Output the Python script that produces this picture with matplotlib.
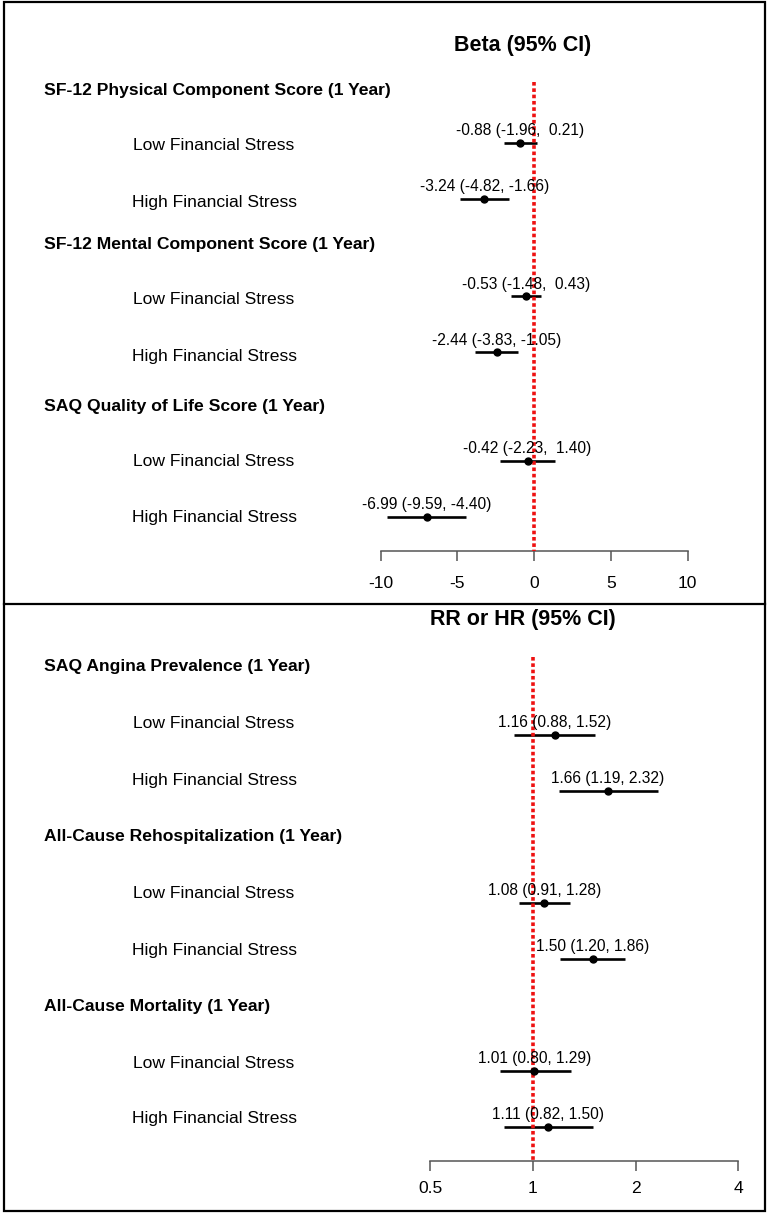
import matplotlib
matplotlib.use("Agg")
import numpy as np
import matplotlib.pyplot as plt
from matplotlib.patches import Rectangle
from matplotlib.lines import Line2D
import matplotlib.transforms as mtransforms

plt.rcParams['font.family'] = ['Liberation Sans', 'DejaVu Sans']

# ---- data ----
beta_headers = ["SF-12 Physical Component Score (1 Year)",
                "SF-12 Mental Component Score (1 Year)",
                "SAQ Quality of Life Score (1 Year)"]
beta_est = [-0.88, -3.24, -0.53, -2.44, -0.42, -6.99]
beta_lo = [-1.96, -4.82, -1.48, -3.83, -2.23, -9.59]
beta_hi = [0.21, -1.66, 0.43, -1.05, 1.40, -4.40]
beta_ticks = [-10, -5, 0, 5, 10]

rr_headers = ["SAQ Angina Prevalence (1 Year)",
              "All-Cause Rehospitalization (1 Year)",
              "All-Cause Mortality (1 Year)"]
rr_est = [1.16, 1.66, 1.08, 1.50, 1.01, 1.11]
rr_lo = [0.88, 1.19, 0.91, 1.20, 0.80, 0.82]
rr_hi = [1.52, 2.32, 1.28, 1.86, 1.29, 1.50]
rr_ticks = [0.5, 1, 2, 4]
rr_ticklabels = ["0.5", "1", "2", "4"]

groups = ["Low Financial Stress", "High Financial Stress"]

W, H = 768, 1214
fig = plt.figure(figsize=(W / 100, H / 100), dpi=100)


def fmt_col(vals):
    s = [f"{v:.2f}" for v in vals]
    w = max(len(x) for x in s)
    return [x.rjust(w) for x in s]


# y positions are in figure pixels (layout only)
def panel(y0, y1, xlim, title, title_y, head_y, label_y, bar_y, axis_y,
          headers, est, lo, hi, ticks, ticklabels, ref, ref_top, pad,
          log=False):
    ax = fig.add_axes([4 / W, 1 - y1 / H, 761 / W, (y1 - y0) / H])
    if log:
        ax.set_xscale('log', base=2)
    ax.set_xlim(*xlim)
    ax.set_ylim(y1, y0)
    ax.patch.set_alpha(0)
    for s in ['left', 'right', 'top']:
        ax.spines[s].set_visible(False)
    sp = ax.spines['bottom']
    sp.set_position(('data', axis_y))
    sp.set_bounds(ticks[0], ticks[-1])
    sp.set_color('#555555')
    sp.set_linewidth(1.1)
    ax.set_yticks([])
    ax.set_xticks(ticks)
    ax.set_xticklabels(ticklabels)
    ax.xaxis.set_minor_locator(matplotlib.ticker.NullLocator())
    ax.tick_params(axis='x', length=7.2, width=1.1, color='#555555',
                   pad=pad, labelsize=12.6)

    tr = mtransforms.blended_transform_factory(ax.transAxes, ax.transData)
    ax.text(0.682, title_y, title, transform=tr, ha='center', va='center',
            fontsize=15.5, fontweight='bold')

    ax.plot([ref, ref], [ref_top, axis_y], color='#ee1111', lw=2.6,
            linestyle=(0, (1.0, 0.75)), zorder=3)

    est_s = fmt_col(est)
    lo_s = fmt_col(lo)
    hi_s = fmt_col(hi)
    for g in range(3):
        ax.text(0.0526, head_y[g], headers[g], transform=tr, ha='left',
                va='center', fontsize=12.6, fontweight='bold')
        for k in range(2):
            i = g * 2 + k
            ax.text(0.276, label_y[i], groups[k], transform=tr, ha='center',
                    va='center', fontsize=12.6)
            yb = bar_y[i]
            ax.plot([lo[i], hi[i]], [yb, yb], color='black', lw=1.9,
                    solid_capstyle='butt', zorder=2)
            ax.plot(est[i], yb, 'o', color='black', ms=5, zorder=4)
            ax.text(est[i], yb - 12,
                    f"{est_s[i]} ({lo_s[i]}, {hi_s[i]})",
                    ha='center', va='center', fontsize=11.2)
    return ax


# top panel: 0 at px 534, 15.35 px per unit
panel(2, 604, ((4 - 534) / 15.35, (765 - 534) / 15.35),
      "Beta (95% CI)", 45, [90, 244, 406],
      [145, 202, 300, 356, 462, 518], [143, 199, 296, 352, 461, 517], 551,
      beta_headers, beta_est, beta_lo, beta_hi,
      beta_ticks, [str(t) for t in beta_ticks], 0, 82, 10.5)

# bottom panel: log2, 1 at px 533, 102.7 px per doubling
panel(604, 1211, (2 ** ((4 - 533) / 102.7), 2 ** ((765 - 533) / 102.7)),
      "RR or HR (95% CI)", 619, [667, 837, 1006],
      [723, 780, 893, 950, 1063, 1119], [735, 791, 903, 959, 1071, 1127], 1161,
      rr_headers, rr_est, rr_lo, rr_hi,
      rr_ticks, rr_ticklabels, 1, 657, 7, log=True)

# borders
fig.add_artist(Rectangle((4 / W, 1 - 1211 / H), 761 / W, 1209 / H,
                         transform=fig.transFigure, fill=False,
                         edgecolor='black', lw=1.6))
fig.add_artist(Line2D([4 / W, 765 / W], [1 - 604 / H, 1 - 604 / H],
                      transform=fig.transFigure, color='black', lw=1.6))

fig.savefig("out.png", dpi=100)
